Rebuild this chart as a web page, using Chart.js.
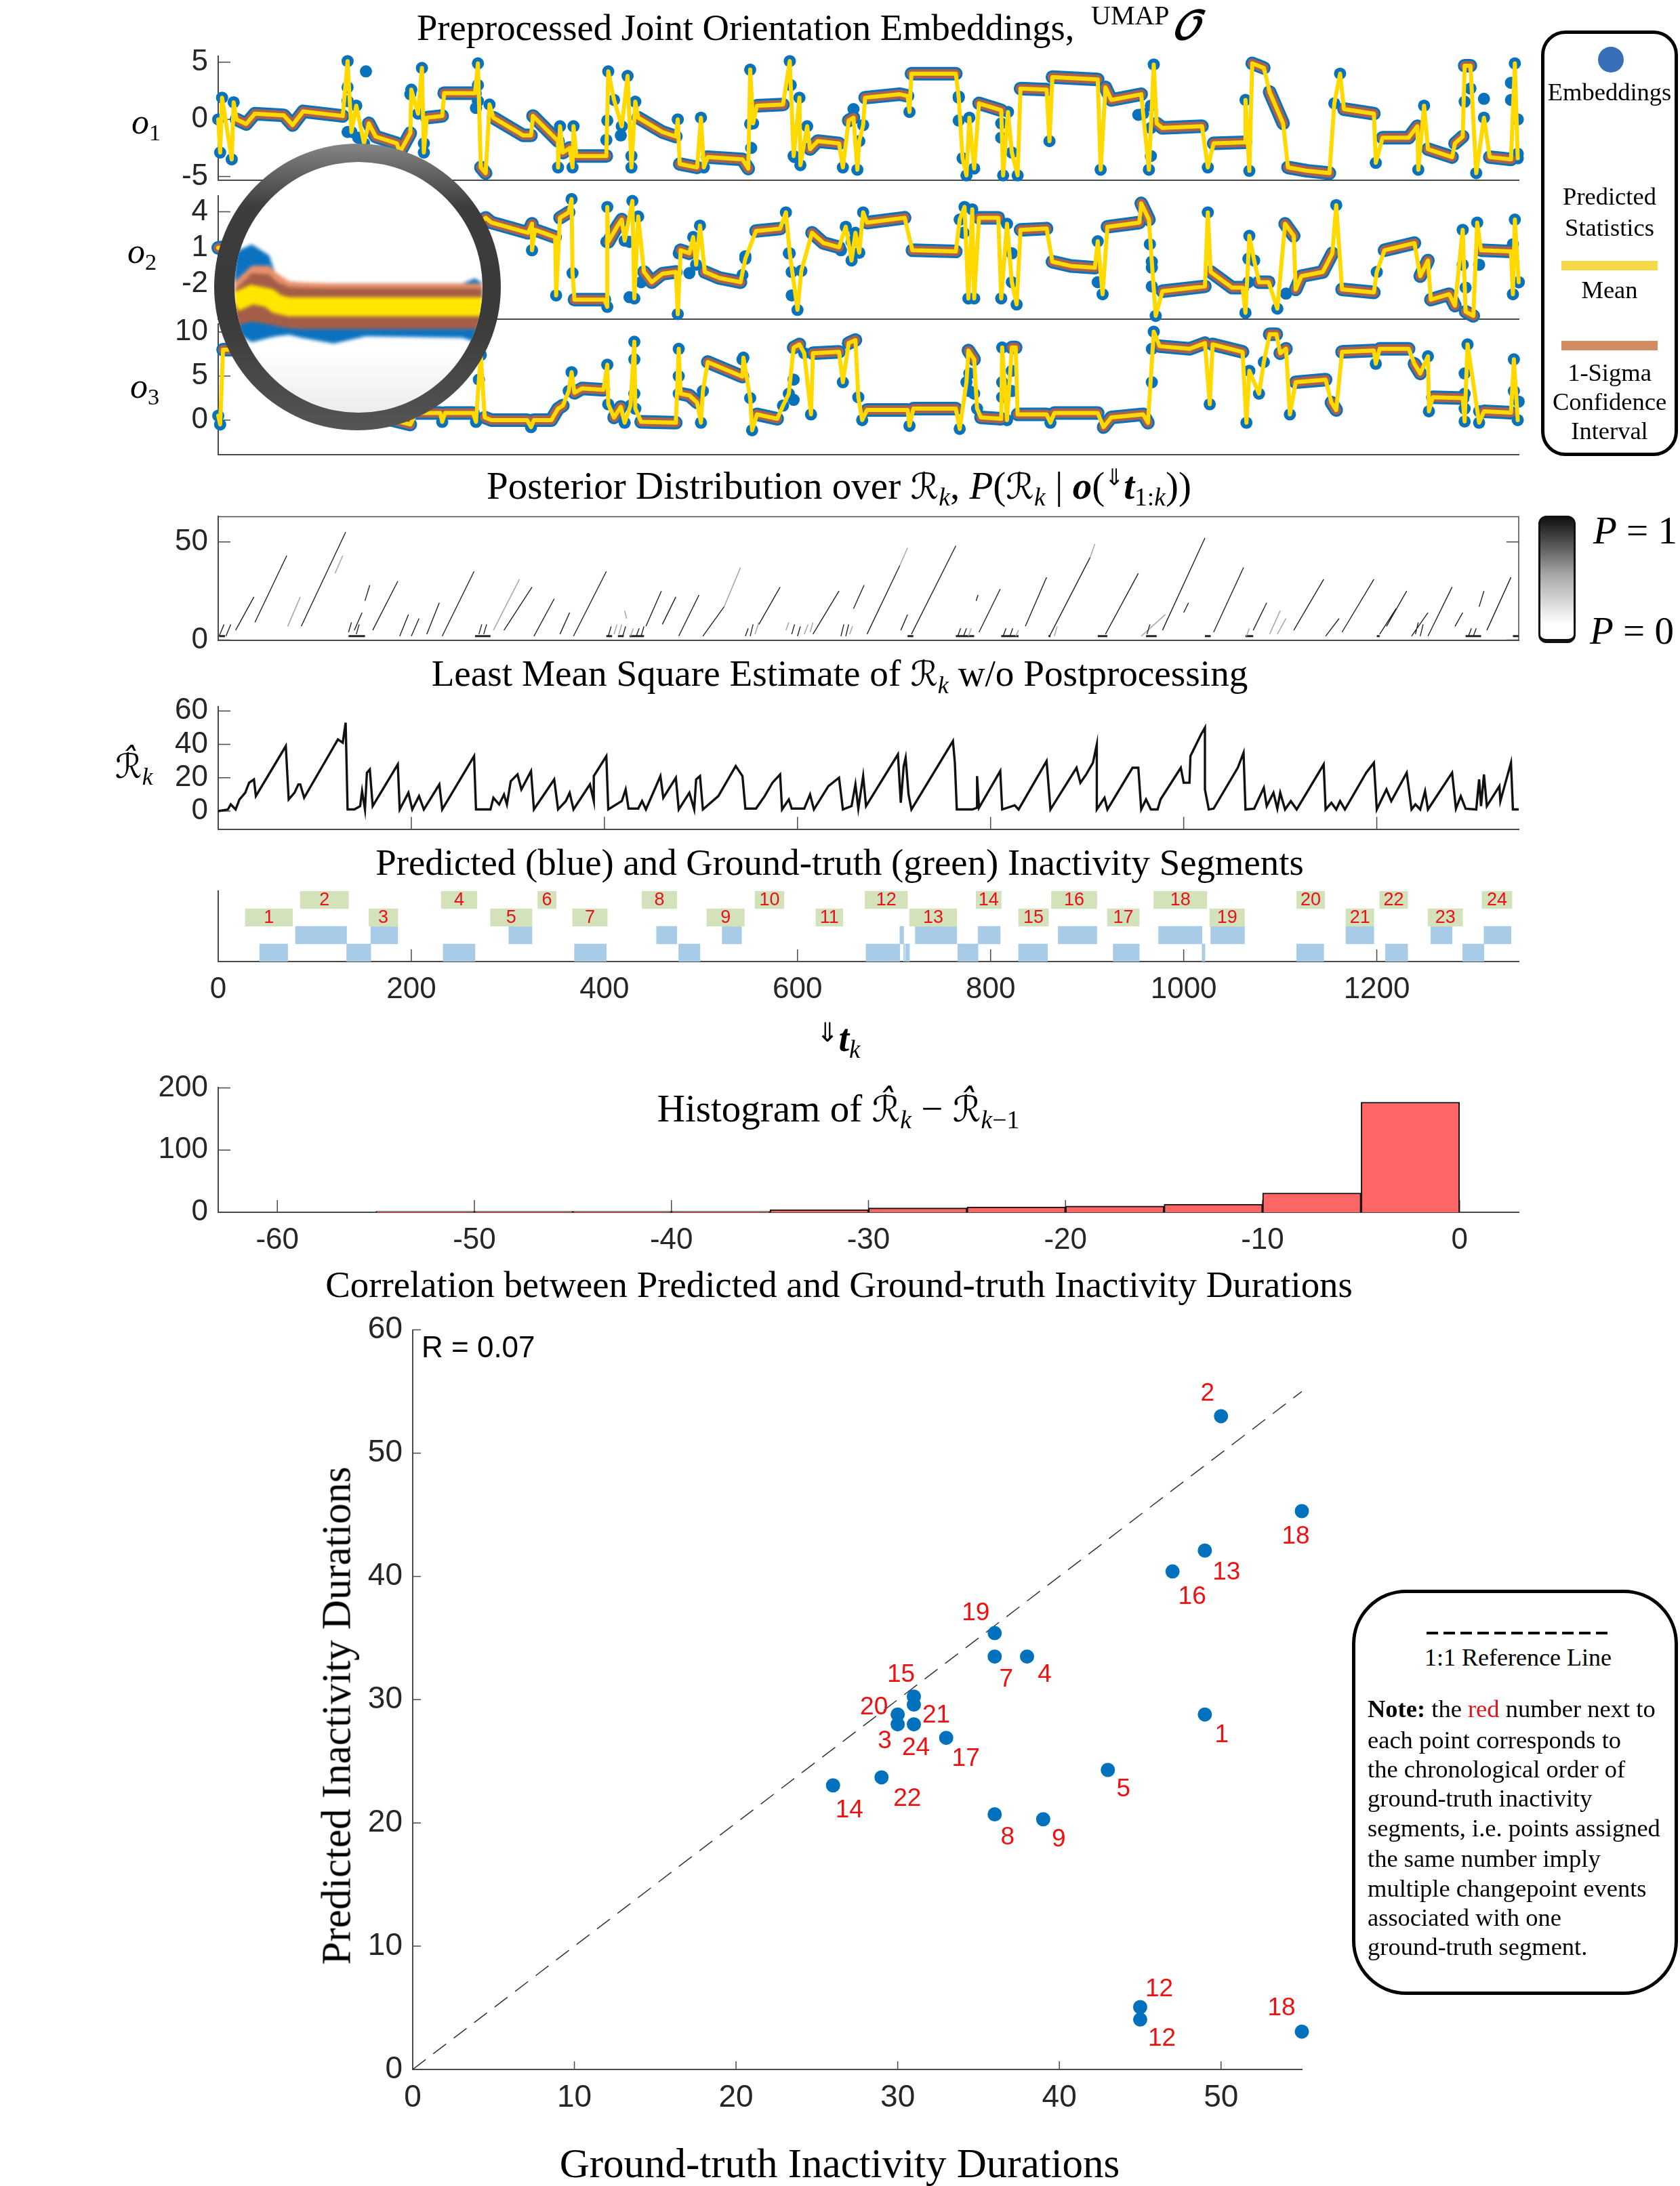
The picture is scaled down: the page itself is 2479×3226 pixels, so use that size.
<!DOCTYPE html>
<html>
<head>
<meta charset="utf-8">
<title>Inactivity segments</title>
<script src="https://cdn.jsdelivr.net/npm/chart.js@4/dist/chart.umd.min.js"></script>
<style>
html, body { margin: 0; padding: 0; background: #fff; }
body { position: relative; width: 2479px; height: 3226px; overflow: hidden; }
canvas { position: absolute; left: 0; }
.t { position: absolute; white-space: nowrap; font-family: "Liberation Serif", serif; color: #000; line-height: 1; }
.t i { font-style: italic; }
.t sub { font-size: 66%; line-height: 0; vertical-align: -0.28em; }
.mr { font-family: "DejaVu Serif", "DejaVu Sans", serif; font-style: italic; font-size: 92%; }
.box { position: absolute; box-sizing: border-box; border: 5px solid #000; background: #fff; }
#lens { position: absolute; left: 316px; top: 212px; width: 423px; height: 423px; border-radius: 50%;
  background: linear-gradient(#858585 0%, #3d3d3d 22%, #3a3a3a 60%, #555 100%); }
#lensInner { position: absolute; left: 30px; top: 27px; width: 366px; height: 370px; border-radius: 50%; overflow: hidden;
  background: linear-gradient(#fff 75%, #ececec 100%); }
#lensInner canvas { filter: blur(2.5px); left: 0; top: 0; }
</style>
</head>
<body>
<script>
// embeddings: mean path key points
const o1T = [0,2,4,14,16,19,29,38,68,77,88,129,134,138,143,151,156,163,185,188,199,200,207,211,213,216,232,234,266,269,272,277,281,285,316,324,326,352,352,354,357,364,367,368,371,402,404,410,418,424,428,432,435,460,474,476,478,496,500,503,507,543,549,551,554,558,585,592,596,602,603,610,613,621,643,647,653,658,662,664,668,670,706,714,716,718,764,767,771,775,778,783,788,811,813,818,822,828,831,858,861,864,911,914,919,925,956,958,964,969,972,978,1019,1025,1031,1064,1064,1068,1071,1083,1089,1103,1108,1128,1151,1156,1162,1166,1197,1199,1206,1233,1242,1243,1249,1253,1278,1281,1289,1291,1297,1303,1311,1317,1339,1343,1346];
const o1Mean = [0,-2.9,1.9,-3.5,1.5,0,-0.4,0.5,0.35,-0.5,0.7,0.3,5.1,-1.1,1.2,-2.1,-0.35,-1.5,-2.1,-2.9,-1.2,2.6,0.5,4.5,-2.9,0.15,0.3,2.3,2.3,4.9,-4.2,-4.7,1.3,0.15,-1.4,-1.4,0.3,-1.9,-4.2,-0.6,-2.9,-2.5,-4.2,-0.6,-3.2,-3.2,4.2,1.7,-0.6,3.8,-4.2,1.55,0.15,-1.1,-1.5,0,-3.9,-4.2,0.15,-4.2,-3.3,-3.5,-4.3,4.35,-0.35,1.2,1.3,5.1,-3.2,1.9,-4,-0.6,-2.6,-1.9,-2.1,-4.2,-0.1,0.15,-4.4,-1.9,-0.5,1.9,2.2,2.05,0.65,4,4,1.9,-3.4,-4.9,0.15,-4.3,1.4,0.8,-4.9,0.65,-2.9,-4.9,2.7,2.6,-1.9,3.7,3.5,-4.4,2.8,1.7,2.2,0.5,-4.4,4.8,-0.35,-0.75,-0.6,-4.2,-2.1,-2,1.7,-4.5,4.9,4.5,2.4,-0.35,-4.2,-4.5,-4.7,1.4,4,0.9,0.5,-3.8,-1.6,-1.6,-0.6,-4.4,1.2,-2.6,-3.3,-2.1,-1.5,4.7,4.7,-4.7,0.15,-3.3,-3.5,4.9,-3.4];
const o1ExtraT = [153,658,1311,134,134,134,145,199,213,269,269,267,403,402,417,428,551,552,593,597,654,767,767,811,811,953,966,966,966,1291,1297,1339,1339,1346,1346];
const o1ExtraV = [4.2,0.9,1.8,2.8,1.6,-1.1,-1.6,2.2,-2.1,3,1.6,1,-0.1,-1.8,-1.4,-3.2,-0.4,-2.5,3,-3.3,0,2,-0.1,-0.35,-1.6,0.4,1.2,-0.75,-3.2,1.55,2.7,3.2,1.7,0,-3];

const o2T = [0,150,270,277,283,321,325,325,328,349,350,354,363,366,367,369,400,403,403,404,413,418,421,429,431,435,441,449,460,474,476,479,488,492,495,499,504,519,541,546,557,582,588,592,600,604,615,627,643,650,656,660,664,668,672,711,719,764,768,773,777,781,783,788,808,811,817,822,827,831,858,864,883,908,911,916,921,954,956,964,967,971,978,1022,1025,1028,1050,1061,1064,1068,1073,1078,1088,1097,1105,1114,1116,1122,1144,1154,1158,1164,1197,1200,1208,1239,1245,1253,1256,1275,1281,1289,1292,1300,1304,1308,1339,1341,1343,1347];
const o2Mean = [1,2,3,3.5,3.1,2.25,3,0.8,2.5,1.9,-2.95,3.5,3.95,5.05,-1.1,-3.3,-3.3,-3.9,4.4,1.5,2.75,3.35,1.6,4.9,-3.2,3.6,-1,-1.85,-1.15,-1,-4.5,0.8,0.55,1.9,-0.4,2.85,-1,-1.5,-1.85,0.1,2.4,2.6,3.95,0.55,-4.15,-0.9,2.25,1.4,1.05,2.75,-0.05,2.25,0.6,3.95,3.1,3.5,0.8,0.7,3.35,4.4,-3.2,4.2,-3.2,3.5,3.5,-3.2,3,-1.85,-3.7,2.5,2.6,-0.15,-0.5,-0.65,1.55,-2.85,2.75,3.1,4.7,3.35,-0.15,-4.65,-2.6,-2.2,3.95,-1,-2.3,-2.3,-4.4,2,-0.05,-1.85,-1.85,-4.05,3,2,-2.45,-1.35,-1,0.55,4.55,-2.45,-2.7,-1,0.8,1.4,-1.35,-0.05,-3.3,-2.85,-3.8,2.5,-4.3,-4.65,3.1,0.8,0.7,-2.85,3.35,-1.85];
const o2ExtraT = [402,426,438,426,477,488,546,543,591,594,594,645,656,772,822,911,965,967,967,1067,1067,1106,1289,1292,1306,1341,1347];
const o2ExtraV = [1.5,1.5,-1.85,-3.1,0.55,-1.1,0.3,-1.25,0.55,-1,-2.95,0.8,1.5,2.25,0.55,-1.85,1.3,-0.65,-2.2,0.1,-1.85,-2.8,-0.4,-2.3,-0.4,1.3,-1.85];

const o3T = [0,2,5,100,150,199,205,230,232,235,264,267,270,272,276,283,320,324,327,345,352,357,363,366,369,377,399,403,404,410,417,421,427,431,432,438,474,477,479,488,496,500,502,507,543,544,551,553,558,579,585,591,596,602,607,614,616,643,647,653,660,663,667,672,714,716,720,764,768,775,777,783,786,790,811,812,817,822,826,828,858,862,866,911,917,925,958,963,969,975,1006,1022,1027,1030,1061,1065,1068,1078,1083,1089,1096,1100,1106,1110,1116,1147,1153,1158,1164,1197,1199,1203,1233,1239,1245,1253,1254,1258,1289,1291,1294,1306,1311,1339,1342,1346];
const o3Mean = [0.5,-0.5,8,8,0.8,-0.5,0.8,0.8,-0.2,0.8,0.8,-0.2,4.6,7.4,0.3,0,0,-0.8,0,0,1.3,1.65,3.3,5.45,3.1,3.6,3.45,6.3,1.8,0.3,1.5,-0.3,1.65,8.9,1.3,-0.2,-0.3,8.1,3,2.8,2,-0.3,3.3,6.6,4.95,7.1,2.5,-1.15,0.65,0.15,1.65,3,8.25,8.6,7.6,0.65,7.6,7.75,4.3,8.75,9.1,2.6,0,1.15,1.15,-0.65,1.3,1.3,-1,4.3,7.9,6.9,1.3,0.3,0.15,8.25,0,8.25,8.25,0.65,0.65,-0.3,0.8,0.8,-0.8,0.3,0.65,-0.3,10.05,8.4,8.1,8.75,1.8,8.6,7.75,-0.3,5.6,3,6.6,9.75,9.75,7.6,8.1,0.65,4.3,4.6,2,1.15,7.75,7.9,6.4,8.1,8.1,6.4,5.3,7.25,1,2.6,2.5,-0.15,8.6,-0.3,1,0.85,6.9,0];
const o3ExtraT = [431,431,477,477,543,596,596,778,778,783,812,812,822,822,967,967,1291,1291,1291,1306,1342,1347];
const o3ExtraV = [6.9,3,3,5,6.9,4.6,2.3,5.3,3.3,3,4.3,2.6,5.6,3.3,4.3,8.1,5.3,3,1.3,1,3.3,2.1];

const o1Ticks = [-5,0,5];
const o2Ticks = [-2,1,4];
const o3Ticks = [0,5,10];

// magnifier inset
const lensX = [0,7,14,17,22,27,40,53,92,97,100];
const lensBlueTop = [60.5,63.3,59.5,52,50.3,50,50,50,50,51.7,50];
const lensBlueBottom = [33.5,30,31.5,32,32.5,31.5,29.5,32,31.5,30,30];
const lensOrangeTop = [50.5,56,56,53.5,50.7,50.3,50,50,50,50,50];
const lensBrownTop = [47.5,53.5,53,50.5,48.7,48.5,48.3,48.3,48.3,48.3,48.3];
const lensBrownBottom = [35.5,37,36,35.5,34.7,34.5,34.5,34.5,34.5,34.5,34.5];
const lensMean = [43.5,46.2,45,43,42,42,42,42,42,42,42];

// posterior ramps: start t, start run length, end t, end run length
const darkRamps = [[18,5,37,22],[38,9,71,43],[86,7,132,55],[141,5,149,14],[152,20,157,28],[160,5,186,30],[188,2,197,13],[200,2,208,11],[216,3,229,19],[232,2,265,35],[296,5,325,27],[327,2,348,21],[354,3,364,14],[368,2,402,35],[443,7,459,25],[460,8,474,22],[477,2,498,23],[502,2,524,17],[560,8,582,27],[616,3,643,25],[658,16,669,28],[672,3,706,38],[707,5,714,13],[718,3,764,48],[785,20,787,23],[788,4,810,26],[836,7,858,32],[861,2,903,42],[919,3,953,34],[978,5,1022,52],[1000,14,1005,19],[1031,4,1062,37],[1072,5,1086,19],[1114,5,1145,31],[1147,2,1161,11],[1164,4,1197,31],[1203,3,1220,16],[1210,7,1231,25],[1236,2,1253,14],[1253,2,1278,27],[1281,7,1289,14],[1306,17,1311,25],[1314,5,1339,32],[1,2,6,8],[8,2,13,8],[135,4,138,9],[143,3,146,8],[270,3,273,8],[275,3,278,8],[404,2,407,7],[419,2,422,7],[433,2,436,6],[438,2,441,7],[546,2,549,6],[551,2,554,8],[594,3,597,8],[600,2,603,7],[645,2,648,8],[650,2,653,8],[766,2,769,6],[772,2,775,6],[813,2,816,6],[820,2,823,6],[962,3,965,8],[1240,3,1243,9],[1245,2,1248,8],[1295,2,1298,6],[1300,2,1303,6]];
const greyRamps = [[72,7,85,22],[121,34,129,43],[285,5,312,31],[524,17,541,37],[421,15,423,11],[410,3,413,8],[415,3,418,8],[427,2,430,6],[588,5,591,9],[706,38,714,47],[903,42,908,49],[1089,3,1100,15],[1097,3,1106,11],[956,2,981,13],[556,3,560,9],[607,3,611,8],[613,4,616,9],[654,3,657,7],[777,2,780,6],[826,2,829,5],[866,2,869,7],[1065,2,1068,6]];
const baseRuns = [[1,7],[135,152],[266,282],[402,408],[414,420],[426,441],[714,720],[764,783],[811,829],[860,862],[911,921],[961,972],[1022,1028],[1064,1072],[1200,1203],[1292,1308],[1341,1347]];
const posteriorTicks = [0,50];

// least mean square estimate
const lmsT = [0,10,13,18,22,28,32,37,39,70,73,79,83,85,89,124,129,132,134,141,147,149,152,154,157,160,186,188,197,201,208,213,229,232,265,267,282,285,291,296,299,303,310,314,324,327,348,352,360,364,368,385,389,389,402,404,418,422,425,435,439,443,458,461,474,477,488,493,495,499,502,518,532,536,543,546,557,566,574,582,584,591,594,607,613,617,632,643,647,656,660,663,668,671,704,707,710,712,715,718,761,763,765,781,786,786,788,810,812,825,829,858,862,889,893,899,906,910,910,918,921,947,953,956,961,966,973,976,997,1000,1006,1007,1018,1022,1022,1026,1031,1056,1062,1064,1073,1083,1086,1093,1097,1100,1105,1111,1117,1145,1147,1153,1158,1162,1167,1189,1197,1200,1210,1215,1231,1236,1240,1245,1250,1253,1278,1282,1287,1292,1303,1306,1308,1311,1314,1327,1328,1339,1341,1347];
const lmsV = [0,1,4,1,7,11,17,19,9,39,7,11,16,16,8,43,41,53,1,1,3,12,1,23,25,3,28,1,11,1,9,1,16,1,33,1,1,8,4,10,4,18,22,13,24,1,19,1,6,11,1,16,6,21,33,1,6,13,1.5,1.5,6,1,21,8,20,1,11,1,19,21,1,9,23,27,21,1.5,1.5,9,17,22,1,7,1.5,1.5,10,1,15,20,1,3,16,1.5,21,3,34,5,27,32,10,1,42,29,1,1,2,21,2,24,1,3.5,1,30,1,26,17,22,29,40,1,8,1,26,26,1,7,1,1,7,26,17,17,33,46,50,13,1,1.5,26,35,1,1.5,14,3,11,1.5,11,1,6,1,28,1,5,1,6,1,23,29,1,13,6,23,1,4,1,12,1,23,1.5,9,1.5,1,19,3,22,3,15,6,29,1,1];
const lmsTicks = [0,20,40,60];

// inactivity segments, t start and end, ground-truth index is position + 1
const gtStart = [28,85,156,231,282,331,367,439,506,556,619,670,716,785,829,863,921,969,1027,1117,1168,1203,1253,1309];
const gtEnd = [77,135,186,268,325,350,403,475,545,586,647,714,765,811,860,910,954,1024,1063,1146,1197,1232,1289,1340];
const predLowStart = [43,133,233,369,477,671,710,712,766,829,927,1019,1117,1209,1289];
const predLowEnd = [72,158,266,402,499,706,711,716,787,859,954,1022,1145,1232,1311];
const predUpStart = [80,158,301,454,522,706,722,787,870,974,1028,1168,1256,1311];
const predUpEnd = [133,186,325,475,542,710,765,810,910,1019,1063,1197,1278,1339];
const rowNames = ['gt even','gt odd','pred upper','pred lower'];
const timeTicks = [0,200,400,600,800,1000,1200];

// histogram
const binCenters = [-57.5,-52.5,-47.5,-42.5,-37.5,-32.5,-27.5,-22.5,-17.5,-12.5,-7.5,-2.5];
const binCounts = [0,1.5,1.5,1.5,1.5,4,7,8.7,10,13,31,177];
const histXTicks = [-60,-50,-40,-30,-20,-10,0];
const histYTicks = [0,100,200];

// correlation scatter
const gtDuration = [49,50,30,38,43,31,36,36,39,45,45,49,26,31,47,33,55,55,36,30,29,31];
const predDuration = [28.8,53,28,33.5,24.3,30.25,33.5,20.7,20.3,5.06,4.05,42.1,23.05,29.6,40.4,26.9,45.3,3.07,35.4,28.8,23.7,28];
const pointNumbers = ['1','2','3','4','5','15','7','8','9','12','12','13','14','21','16','17','18','18','19','20','22','24'];
const refX = [0,55];
const refY = [0,55];
const corrXTicks = [0,10,20,30,40,50];
const corrYTicks = [0,10,20,30,40,50,60];

// label offsets from their point, pixels, same order as pointNumbers
const labelDx = [25,-20,-19,26,23,-19,17,19,23,28,32,32,24,33,29,29,-9,-30,-28,-35,38,3];
const labelDy = [31,-33,25.5,27,29,-32,34,34,30,-26,28,33,37,16,37.5,31,37.5,-34,-29,-10,32,35];

const W = 2479, AXIS_LEFT = 322, AXIS_RIGHT = 2241, PAD_TOP = 40, PAD_BOTTOM = 40;
const axisColor = '#4a4a4a', tickText = '#262626', sansFont = '"Liberation Sans", Arial, sans-serif';

Chart.register({
  id: 'inwardTicks',
  beforeDatasetsDraw(chart, args, opts) {
    if (!opts.length) return;
    const { ctx, chartArea: a, scales: { x, y } } = chart;
    ctx.save();
    ctx.strokeStyle = axisColor;
    ctx.lineWidth = 1.5;
    ctx.beginPath();
    if (opts.onX) x.ticks.forEach(t => {
      const px = x.getPixelForValue(t.value);
      ctx.moveTo(px, a.bottom); ctx.lineTo(px, a.bottom - opts.length);
    });
    if (opts.onY) y.ticks.forEach(t => {
      const py = y.getPixelForValue(t.value);
      ctx.moveTo(a.left, py); ctx.lineTo(a.left + opts.length, py);
      if (opts.box) { ctx.moveTo(a.right, py); ctx.lineTo(a.right - opts.length, py); }
    });
    if (opts.box) {
      ctx.moveTo(a.left, a.top); ctx.lineTo(a.right, a.top); ctx.lineTo(a.right, a.bottom);
    }
    ctx.stroke();
    ctx.restore();
  }
});

Chart.register({
  id: 'segmentNumbers',
  afterDatasetsDraw(chart, args, opts) {
    if (!opts.on) return;
    const { ctx } = chart;
    ctx.save();
    ctx.fillStyle = '#e8101a';
    ctx.font = '27px ' + sansFont;
    ctx.textAlign = 'center';
    ctx.textBaseline = 'middle';
    chart.data.datasets.forEach((ds, i) => {
      if (!ds.number) return;
      const bar = chart.getDatasetMeta(i).data[0];
      ctx.fillText(ds.number, (bar.x + bar.base) / 2, bar.y + 1);
    });
    ctx.restore();
  }
});

Chart.register({
  id: 'pointNumbers',
  afterDatasetsDraw(chart, args, opts) {
    if (!opts.on) return;
    const { ctx } = chart;
    const meta = chart.getDatasetMeta(0);
    ctx.save();
    ctx.fillStyle = '#ee1111';
    ctx.font = '37px ' + sansFont;
    ctx.textAlign = 'center';
    ctx.textBaseline = 'middle';
    pointNumbers.forEach((n, i) => {
      ctx.fillText(n, meta.data[i].x + labelDx[i], meta.data[i].y + labelDy[i]);
    });
    ctx.restore();
  }
});

// area top and bottom are in page pixels, margin is room below for tick labels
function addCanvas(top, bottom, margin) {
  const c = document.createElement('canvas');
  c.width = W;
  c.height = Math.round(PAD_TOP + bottom - top + margin);
  c.style.top = (top - PAD_TOP) + 'px';
  document.body.appendChild(c);
  return c.getContext('2d');
}

function toPoints(xs, ys) {
  return xs.map((x, i) => ({ x, y: ys[i] }));
}

function yScale(min, max, ticks, left, fontSize) {
  return {
    type: 'linear', min, max,
    afterBuildTicks: s => { s.ticks = ticks.map(value => ({ value })); },
    afterFit: s => { s.width = left; },
    grid: { display: false, drawTicks: false },
    border: { color: axisColor, width: 2 },
    ticks: { autoSkip: false, padding: 15, color: tickText, callback: v => String(v), font: { family: sansFont, size: fontSize || 44 } }
  };
}

function xScale(min, max, ticks, height, showLabels, padding, fontSize) {
  return {
    type: 'linear', min, max,
    afterBuildTicks: s => { s.ticks = ticks.map(value => ({ value })); },
    afterFit: s => { s.height = height; },
    grid: { display: false, drawTicks: false },
    border: { color: axisColor, width: 2 },
    ticks: { display: showLabels, autoSkip: false, maxRotation: 0, minRotation: 0, padding: padding || 0, color: tickText, callback: v => String(v), font: { family: sansFont, size: fontSize || 44 } }
  };
}

function baseOptions(right, scales, plugins) {
  return {
    responsive: false,
    animation: false,
    devicePixelRatio: 1,
    events: [],
    layout: { padding: { top: PAD_TOP, right: W - right, left: 0, bottom: 0 } },
    scales,
    plugins: Object.assign({ legend: { display: false }, tooltip: { enabled: false } }, plugins)
  };
}

function flatOnly(color) {
  return {
    borderColor: c => {
      const a = c.p0.parsed, b = c.p1.parsed;
      return Math.abs(b.y - a.y) / Math.max(b.x - a.x, 0.5) < 0.2 ? color : 'rgba(0,0,0,0)';
    }
  };
}

function embeddingPanel(top, bottom, ts, mean, extraT, extraV, yMin, yMax, ticks) {
  const pts = toPoints(ts, mean);
  const common = { showLine: true, clip: false, pointRadius: 0, borderCapStyle: 'round', borderJoinStyle: 'round' };
  new Chart(addCanvas(top, bottom, PAD_BOTTOM), {
    type: 'scatter',
    data: {
      datasets: [
        Object.assign({}, common, { data: pts, borderColor: '#ffd900', borderWidth: 6, order: 1 }),
        Object.assign({}, common, { data: pts, borderColor: '#a9624c', borderWidth: 14, segment: flatOnly('#a9624c'), order: 2 }),
        Object.assign({}, common, { data: pts, borderColor: '#0a72bd', borderWidth: 20, segment: flatOnly('#0a72bd'), pointRadius: 9, pointBackgroundColor: '#0a72bd', pointBorderWidth: 0, order: 3 }),
        { data: toPoints(extraT, extraV), showLine: false, clip: false, pointRadius: 9, pointBackgroundColor: '#0a72bd', pointBorderWidth: 0, order: 4 }
      ]
    },
    options: baseOptions(AXIS_RIGHT, {
      x: xScale(0, 1347, [], PAD_BOTTOM, false),
      y: yScale(yMin, yMax, ticks, AXIS_LEFT)
    }, { inwardTicks: { length: 18, onY: true } })
  });
}

embeddingPanel(82, 266.7, o1T, o1Mean, o1ExtraT, o1ExtraV, -5.3, 5.5, o1Ticks);
embeddingPanel(287.5, 471.4, o2T, o2Mean, o2ExtraT, o2ExtraV, -4.9, 5.3, o2Ticks);
embeddingPanel(477, 672, o3T, o3Mean, o3ExtraT, o3ExtraV, -3.9, 10.9, o3Ticks);

// posterior
function rampsToPoints(ramps) {
  const pts = [];
  ramps.forEach(r => {
    pts.push({ x: r[0], y: r[1] }, { x: r[2], y: r[3] }, { x: r[2], y: null });
  });
  return pts;
}
function baseToPoints(runs) {
  const pts = [];
  runs.forEach(r => {
    pts.push({ x: r[0], y: 2 }, { x: r[1], y: 2 }, { x: r[1], y: null });
  });
  return pts;
}
new Chart(addCanvas(761, 946, PAD_BOTTOM), {
  type: 'scatter',
  data: {
    datasets: [
      { data: rampsToPoints(darkRamps), showLine: true, spanGaps: false, pointRadius: 0, borderColor: '#222', borderWidth: 1.4 },
      { data: rampsToPoints(greyRamps), showLine: true, spanGaps: false, pointRadius: 0, borderColor: '#aaa', borderWidth: 1.6 },
      { data: baseToPoints(baseRuns), showLine: true, spanGaps: false, pointRadius: 0, borderColor: '#222', borderWidth: 3 }
    ]
  },
  options: baseOptions(AXIS_RIGHT, {
    x: xScale(0, 1347, [], PAD_BOTTOM, false),
    y: yScale(0, 62.9, posteriorTicks, AXIS_LEFT)
  }, { inwardTicks: { length: 18, onY: true, box: true } })
});

// least mean square
new Chart(addCanvas(1042, 1225, PAD_BOTTOM), {
  type: 'scatter',
  data: { datasets: [{ data: toPoints(lmsT, lmsV), showLine: true, pointRadius: 0, borderColor: '#111', borderWidth: 3.4, borderJoinStyle: 'miter' }] },
  options: baseOptions(AXIS_RIGHT, {
    x: xScale(0, 1347, timeTicks, PAD_BOTTOM, false),
    y: yScale(-10.8, 62.4, lmsTicks, AXIS_LEFT)
  }, { inwardTicks: { length: 18, onX: true, onY: true } })
});

// segments
function segDatasets() {
  const out = [];
  gtStart.forEach((s, i) => {
    out.push({ data: [{ x: [s, gtEnd[i]], y: rowNames[i % 2 === 1 ? 0 : 1] }], backgroundColor: '#d3e2ba', number: String(i + 1) });
  });
  predLowStart.forEach((s, i) => {
    out.push({ data: [{ x: [s, predLowEnd[i]], y: rowNames[3] }], backgroundColor: '#a8cce8' });
  });
  predUpStart.forEach((s, i) => {
    out.push({ data: [{ x: [s, predUpEnd[i]], y: rowNames[2] }], backgroundColor: '#a8cce8' });
  });
  return out;
}
new Chart(addCanvas(1314.5, 1418, 90), {
  type: 'bar',
  data: { labels: rowNames, datasets: segDatasets() },
  options: Object.assign(baseOptions(AXIS_RIGHT, {
    x: xScale(0, 1347, timeTicks, 90, true, 15),
    y: {
      type: 'category',
      afterFit: s => { s.width = AXIS_LEFT; },
      grid: { display: false, drawTicks: false },
      border: { color: axisColor, width: 2 },
      ticks: { display: false }
    }
  }, { inwardTicks: { length: 18, onX: true }, segmentNumbers: { on: true } }), {
    indexAxis: 'y',
    datasets: { bar: { grouped: false, categoryPercentage: 1, barPercentage: 1, borderWidth: 0 } }
  })
});

// histogram
new Chart(addCanvas(1604, 1789, 90), {
  type: 'bar',
  data: { datasets: [{ data: toPoints(binCenters, binCounts), backgroundColor: '#ff6666', borderColor: '#111', borderWidth: 2, borderSkipped: 'bottom', categoryPercentage: 1, barPercentage: 1 }] },
  options: baseOptions(AXIS_RIGHT, {
    x: Object.assign(xScale(-63, 3, histXTicks, 90, true, 15), { offset: false }),
    y: yScale(0, 200, histYTicks, AXIS_LEFT)
  }, { inwardTicks: { length: 18, onX: true, onY: true } })
});

// correlation
new Chart(addCanvas(1960, 3054, 90), {
  type: 'scatter',
  data: {
    datasets: [
      { data: toPoints(gtDuration, predDuration), clip: false, pointRadius: 10.5, pointBackgroundColor: '#0072bd', pointBorderWidth: 0, showLine: false, order: 1 },
      { data: toPoints(refX, refY), showLine: true, pointRadius: 0, borderColor: '#333', borderWidth: 1.5, borderDash: [24, 14], order: 2 }
    ]
  },
  options: baseOptions(1921, {
    x: xScale(0, 55, corrXTicks, 90, true, 15, 46),
    y: yScale(0, 60, corrYTicks, 609, 46)
  }, { inwardTicks: { length: 12, onX: true, onY: true }, pointNumbers: { on: true } })
});

// magnifier
const lens = document.createElement('div');
lens.id = 'lens';
const lensInner = document.createElement('div');
lensInner.id = 'lensInner';
lens.appendChild(lensInner);
document.body.appendChild(lens);
const lensCanvas = document.createElement('canvas');
lensCanvas.width = 366;
lensCanvas.height = 370;
lensInner.appendChild(lensCanvas);
const lensFill = { pointRadius: 0, borderWidth: 0, showLine: true };
new Chart(lensCanvas.getContext('2d'), {
  type: 'scatter',
  data: {
    datasets: [
      Object.assign({}, lensFill, { data: toPoints(lensX, lensMean), borderColor: '#ffe600', borderWidth: 28, order: 1 }),
      Object.assign({}, lensFill, { data: toPoints(lensX, lensBrownTop), fill: '+1', backgroundColor: '#a45d47', order: 2 }),
      Object.assign({}, lensFill, { data: toPoints(lensX, lensBrownBottom), order: 2 }),
      Object.assign({}, lensFill, { data: toPoints(lensX, lensOrangeTop), fill: '+1', backgroundColor: '#e8906a', order: 3 }),
      Object.assign({}, lensFill, { data: toPoints(lensX, lensBrownBottom), order: 3 }),
      Object.assign({}, lensFill, { data: toPoints(lensX, lensBlueTop), fill: '+1', backgroundColor: '#0a72c0', order: 4 }),
      Object.assign({}, lensFill, { data: toPoints(lensX, lensBlueBottom), order: 4 })
    ]
  },
  options: {
    responsive: false, animation: false, devicePixelRatio: 1, events: [],
    layout: { padding: 0 },
    scales: {
      x: { type: 'linear', min: 0, max: 100, display: false },
      y: { type: 'linear', min: 6, max: 91.3, display: false }
    },
    plugins: { legend: { display: false }, tooltip: { enabled: false } }
  }
});

// text
function addText(html, x, cy, size, anchor) {
  const el = document.createElement('div');
  el.className = 't';
  el.innerHTML = html;
  el.style.left = x + 'px';
  el.style.top = cy + 'px';
  el.style.fontSize = size + 'px';
  const tx = anchor === 'c' ? '-50%' : anchor === 'r' ? '-100%' : '0';
  el.style.transform = 'translate(' + tx + ',-50%)';
  document.body.appendChild(el);
  return el;
}
const R = '<span class="mr">ℛ</span>';
const Rhat = '<span class="mr">ℛ\u0302</span>';

addText('Preprocessed Joint Orientation Embeddings,', 615, 41, 54.6);
addText('UMAP', 1610, 23, 40);
addText('<span style="font-family:\'DejaVu Math TeX Gyre\',\'DejaVu Serif\';font-weight:bold;font-style:italic">𝒪</span>', 1728, 39, 56);
addText('<i>o</i><sub>1</sub>', 194, 180, 52);
addText('<i>o</i><sub>2</sub>', 188, 371, 52);
addText('<i>o</i><sub>3</sub>', 192, 570, 52);

addText('Posterior Distribution over ' + R + '<sub><i>k</i></sub>, <i>P</i>(' + R + '<sub><i>k</i></sub> | <b><i>o</i></b>(<sup style="font-size:60%;line-height:0">⇓</sup><b><i>t</i></b><sub>1:<i>k</i></sub>))', 1238, 716, 57, 'c');
addText('Least Mean Square Estimate of ' + R + '<sub><i>k</i></sub> w/o Postprocessing', 1239, 994, 55.2, 'c');
addText(Rhat + '<sub><i>k</i></sub>', 170, 1130, 54);
addText('Predicted (blue) and Ground-truth (green) Inactivity Segments', 1239, 1273, 54.8, 'c');
addText('<span style="font-family:\'DejaVu Sans\';font-size:70%;vertical-align:0.35em">⇓</span><b><i>t</i></b><sub><i>k</i></sub>', 1237, 1532, 56, 'c');
addText('Histogram of ' + Rhat + '<sub><i>k</i></sub> − ' + Rhat + '<sub><i>k</i>−1</sub>', 1237, 1635, 57, 'c');
addText('Correlation between Predicted and Ground-truth Inactivity Durations', 1238, 1896, 54.8, 'c');

const rLabel = addText('R = 0.07', 622, 1988, 44);
rLabel.style.fontFamily = sansFont;

addText('Ground-truth Inactivity Durations', 1239, 3192, 61, 'c');
const yTitle = addText('Predicted Inactivity Durations', 496, 2532, 61, 'c');
yTitle.style.transform = 'translate(-50%,-50%) rotate(-90deg)';

// legend box
function addBox(left, top, width, height, radius) {
  const b = document.createElement('div');
  b.className = 'box';
  b.style.cssText += 'left:' + left + 'px;top:' + top + 'px;width:' + width + 'px;height:' + height + 'px;border-radius:' + radius + 'px';
  document.body.appendChild(b);
  return b;
}
function addSwatch(left, top, width, height, css) {
  const s = document.createElement('div');
  s.style.cssText = 'position:absolute;left:' + left + 'px;top:' + top + 'px;width:' + width + 'px;height:' + height + 'px;' + css;
  document.body.appendChild(s);
}
addBox(2274, 45, 202, 628, 36);
addSwatch(2358, 69, 38, 38, 'background:#3770b8;border-radius:50%');
addText('Embeddings', 2375, 136, 36.5, 'c');
addText('Predicted', 2375, 290, 36.5, 'c');
addText('Statistics', 2375, 336, 36.5, 'c');
addSwatch(2304, 385, 142, 14, 'background:#f5d949');
addText('Mean', 2375, 428, 36.5, 'c');
addSwatch(2304, 503, 142, 14, 'background:#d28b63');
addText('1-Sigma', 2375, 550, 36.5, 'c');
addText('Confidence', 2375, 593, 36.5, 'c');
addText('Interval', 2375, 636, 36.5, 'c');

// colourbar
addSwatch(2270, 761, 55, 188, 'box-sizing:border-box;border:3px solid #111;border-bottom-width:6px;border-radius:12px;background:linear-gradient(#111 0%,#555 22%,#aaa 48%,#ddd 72%,#fff 88%)');
addText('<i>P</i> = 1', 2351, 782, 57);
addText('<i>P</i> = 0', 2346, 930, 57);

// note box
addBox(1995, 2346, 481, 598, 80);
addSwatch(2105, 2408, 272, 4, 'background:repeating-linear-gradient(90deg,#000 0,#000 17px,transparent 17px,transparent 25px)');
addText('1:1 Reference Line', 2240, 2446, 36, 'c');
const noteLines = [
  '<b>Note:</b> the <span style="color:#e8101a">red</span> number next to',
  'each point corresponds to',
  'the chronological order of',
  'ground-truth inactivity',
  'segments, i.e. points assigned',
  'the same number imply',
  'multiple changepoint events',
  'associated with one',
  'ground-truth segment.'
];
const noteY = [2522, 2568, 2611, 2654, 2698, 2743, 2787, 2830, 2873];
noteLines.forEach((line, i) => addText(line, 2018, noteY[i], 36.5));
</script>
</body>
</html>
